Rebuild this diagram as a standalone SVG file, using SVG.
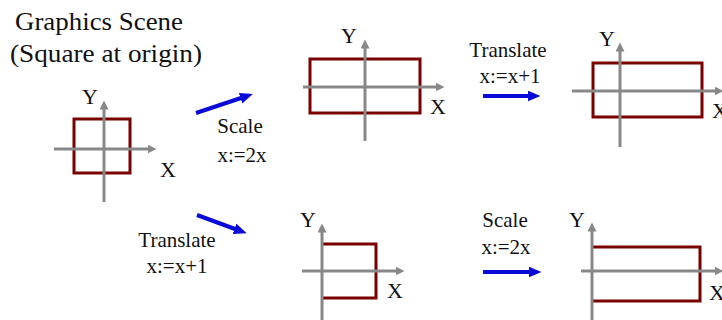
<svg xmlns="http://www.w3.org/2000/svg" width="722" height="320" viewBox="0 0 722 320">
<style>
text { font-family: "Liberation Serif", "Times New Roman", serif; fill: #111; }
.title { font-size: 26px; }
.lbl { font-size: 21px; text-anchor: middle; }
.ax { font-size: 22px; text-anchor: middle; }
.axis { stroke: #888; stroke-width: 3; fill: none; }
.shape { stroke: #7a0000; stroke-width: 3; fill: none; }
.op { stroke: #0a0ad8; stroke-width: 4; fill: none; }
</style>
<defs>
<marker id="ah" markerUnits="userSpaceOnUse" markerWidth="10" markerHeight="10" refX="0.5" refY="4.5" orient="auto">
<path d="M0,0 L9,4.5 L0,9 z" fill="#888"/>
</marker>
<marker id="bh" markerUnits="userSpaceOnUse" markerWidth="14" markerHeight="12" refX="0.5" refY="5.5" orient="auto">
<path d="M0,0 L13,5.5 L0,11 z" fill="#0a0ad8"/>
</marker>
</defs>

<g id="title">
<text class="title" x="15" y="30" textLength="168" lengthAdjust="spacingAndGlyphs">Graphics Scene</text>
<text class="title" x="10" y="62" textLength="192" lengthAdjust="spacingAndGlyphs">(Square at origin)</text>
</g>

<g id="scene-origin">
<rect class="shape" x="74" y="119" width="56" height="54"/>
<line class="axis" x1="54" y1="149" x2="148" y2="149" marker-end="url(#ah)"/>
<line class="axis" x1="104" y1="202" x2="104" y2="109" marker-end="url(#ah)"/>
<text class="ax" x="90" y="104">Y</text>
<text class="ax" x="168" y="177">X</text>
</g>

<g id="scene-scaled">
<rect class="shape" x="310" y="59" width="110" height="54"/>
<line class="axis" x1="303" y1="87" x2="436" y2="87" marker-end="url(#ah)"/>
<line class="axis" x1="365" y1="141" x2="365" y2="48" marker-end="url(#ah)"/>
<text class="ax" x="349" y="43">Y</text>
<text class="ax" x="438" y="114">X</text>
</g>

<g id="scene-scaled-translated">
<rect class="shape" x="593" y="63" width="109" height="54"/>
<line class="axis" x1="572" y1="91" x2="715" y2="91" marker-end="url(#ah)"/>
<line class="axis" x1="620" y1="147" x2="620" y2="51" marker-end="url(#ah)"/>
<text class="ax" x="607" y="46">Y</text>
<text class="ax" x="720" y="118">X</text>
</g>

<g id="scene-translated">
<path class="shape" d="M322,244 H376 V298 H322"/>
<line class="axis" x1="302" y1="271" x2="396" y2="271" marker-end="url(#ah)"/>
<line class="axis" x1="322" y1="330" x2="322" y2="232" marker-end="url(#ah)"/>
<text class="ax" x="308" y="227">Y</text>
<text class="ax" x="395" y="298">X</text>
</g>

<g id="scene-translated-scaled">
<path class="shape" d="M592,247 H700 V301 H592"/>
<line class="axis" x1="581" y1="271" x2="715" y2="271" marker-end="url(#ah)"/>
<line class="axis" x1="592" y1="330" x2="592" y2="231" marker-end="url(#ah)"/>
<text class="ax" x="577" y="227">Y</text>
<text class="ax" x="717" y="300">X</text>
</g>

<g id="connectors">
<line class="op" x1="196" y1="113" x2="241" y2="98" marker-end="url(#bh)"/>
<line class="op" x1="483" y1="96" x2="528" y2="96" marker-end="url(#bh)"/>
<line class="op" x1="197" y1="215" x2="235" y2="229" marker-end="url(#bh)"/>
<line class="op" x1="483" y1="272" x2="529" y2="272" marker-end="url(#bh)"/>
</g>

<g id="labels">
<text class="lbl" x="240" y="133">Scale</text>
<text class="lbl" x="242" y="162">x:=2x</text>
<text class="lbl" x="508" y="57">Translate</text>
<text class="lbl" x="510" y="83">x:=x+1</text>
<text class="lbl" x="177" y="247">Translate</text>
<text class="lbl" x="177" y="273">x:=x+1</text>
<text class="lbl" x="505" y="227">Scale</text>
<text class="lbl" x="506" y="254">x:=2x</text>
</g>
</svg>
